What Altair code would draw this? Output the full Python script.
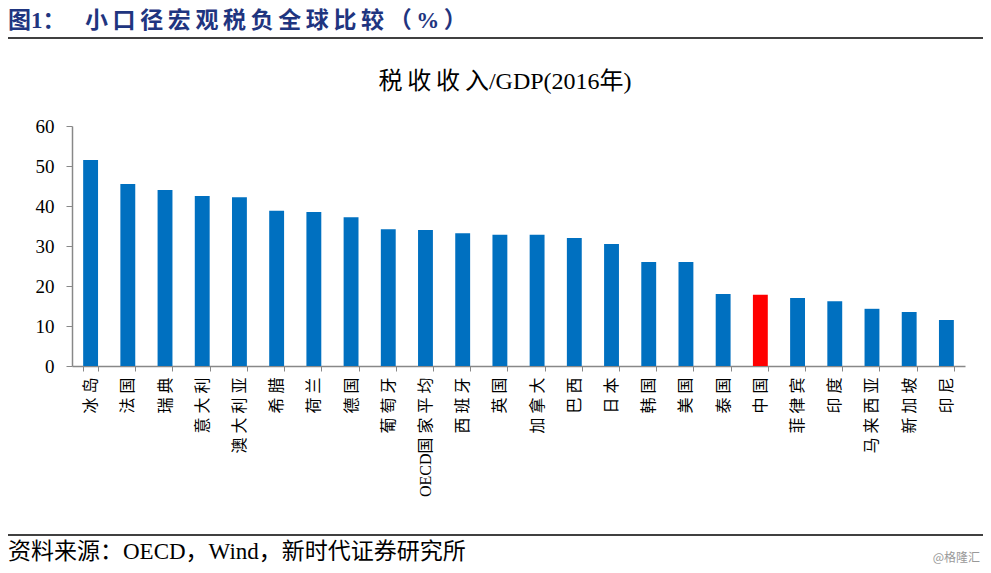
import altair as alt
import pandas as pd

countries = ["冰岛", "法国", "瑞典", "意大利", "澳大利亚", "希腊", "荷兰", "德国", "葡萄牙",
             "OECD国家平均", "西班牙", "英国", "加拿大", "巴西", "日本", "韩国", "美国", "泰国",
             "中国", "菲律宾", "印度", "马来西亚", "新加坡", "印尼"]
values = [51.5, 45.5, 44.0, 42.5, 42.2, 38.8, 38.5, 37.2, 34.2, 34.0, 33.2, 32.8, 32.8,
          32.0, 30.5, 26.0, 26.0, 18.0, 17.8, 17.0, 16.2, 14.3, 13.5, 11.5]
highlight = ["中国"]
y_ticks = [0, 10, 20, 30, 40, 50, 60]

fig_label = "图1："
fig_title = "小口径宏观税负全球比较（%）"
chart_title_cjk = "税收收入"
chart_title_rest = "/GDP(2016年)"
source_text = "资料来源：OECD，Wind，新时代证券研究所"
watermark = "@格隆汇"

SERIF = "'Liberation Serif', 'Noto Sans CJK SC'"
THIN = "\u2009"
W, H = 893, 240

df = pd.DataFrame({"country": countries, "value": values})
df["is_hl"] = df["country"].isin(highlight)

bars = alt.Chart(df).mark_bar().encode(
    x=alt.X("country:N", sort=countries,
            scale=alt.Scale(paddingInner=0.6, paddingOuter=0.3),
            axis=alt.Axis(title=None, labelAngle=270, labelAlign="right", labelBaseline="middle",
                          labelExpr="replace(datum.label, regexp('([^A-Z])(?=.)', 'g'), '$1 ')",
                          labelFont=SERIF, labelFontSize=16, labelColor="#000000",
                          labelPadding=6, tickBand="extent", tickSize=5, tickColor="#888888",
                          domainColor="#888888", domainWidth=1.5, grid=False, labelLimit=300)),
    y=alt.Y("value:Q", scale=alt.Scale(domain=[0, 60], nice=False),
            axis=alt.Axis(title=None, values=y_ticks, labelFont=SERIF, labelFontSize=19,
                          labelColor="#000000", tickSize=6, tickColor="#888888",
                          domainColor="#888888", domainWidth=1.5, grid=False, labelPadding=12)),
    color=alt.Color("is_hl:N", scale=alt.Scale(domain=[False, True], range=["#0070C0", "#FF0000"]),
                    legend=None),
)

label_mark = alt.Chart(pd.DataFrame({"t": [fig_label]})).mark_text(
    align="left", baseline="alphabetic", font=SERIF, fontSize=23, fontWeight="bold", color="#1F3580"
).encode(text="t:N", x=alt.value(-64), y=alt.value(-98))

title_mark = alt.Chart(pd.DataFrame({"t": [THIN.join(fig_title)]})).mark_text(
    align="left", baseline="alphabetic", font=SERIF, fontSize=23, fontWeight="bold", color="#1F3580"
).encode(text="t:N", x=alt.value(13), y=alt.value(-98))

sub_mark = alt.Chart(pd.DataFrame({"t": [THIN.join(chart_title_cjk) + chart_title_rest]})).mark_text(
    align="center", baseline="middle", font=SERIF, fontSize=24, color="#000000"
).encode(text="t:N", x=alt.value(433), y=alt.value(-44))

src_mark = alt.Chart(pd.DataFrame({"t": [source_text]})).mark_text(
    align="left", baseline="middle", font=SERIF, fontSize=23, color="#000000"
).encode(text="t:N", x=alt.value(-64), y=alt.value(426))

wm_mark = alt.Chart(pd.DataFrame({"t": [watermark]})).mark_text(
    align="right", baseline="middle", font="'Noto Sans CJK SC'", fontSize=12, color="#999999"
).encode(text="t:N", x=alt.value(908), y=alt.value(432))

top_line = alt.Chart(pd.DataFrame({"a": [0]})).mark_rule(color="#000000", strokeWidth=1.5).encode(
    x=alt.value(-72), x2=alt.value(915), y=alt.value(-88))
bot_line = alt.Chart(pd.DataFrame({"a": [0]})).mark_rule(color="#000000", strokeWidth=1.5).encode(
    x=alt.value(-72), x2=alt.value(915), y=alt.value(409))

chart = alt.layer(bars, label_mark, title_mark, sub_mark, src_mark, wm_mark, top_line, bot_line).properties(
    width=W, height=H, autosize="none",
    padding={"left": 64, "top": 118, "right": 18, "bottom": 199},
).configure(background="#ffffff", view=alt.ViewConfig(stroke="transparent"))

chart.save("out.html", embed_options={"renderer": "svg", "actions": False})
